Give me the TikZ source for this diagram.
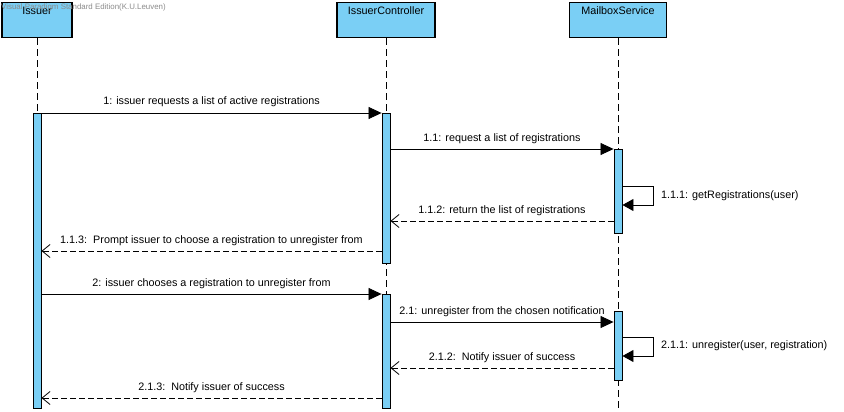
\documentclass[tikz,border=0pt]{standalone}
\usepackage{fontspec}
\setmainfont{Liberation Sans}
\usetikzlibrary{arrows.meta,calc}
\definecolor{vpblue}{RGB}{122,207,245}
\begin{document}
\begin{tikzpicture}[x=1pt,y=-1pt,
 head/.style={draw=black,line width=1.1pt,fill=vpblue,minimum height=35pt,inner sep=0pt,anchor=north},
 headtext/.style={font=\fontsize{10.8}{12}\selectfont,anchor=base,inner sep=0pt},
 bar/.style={draw=black,line width=0.9pt,fill=vpblue,minimum width=8pt,inner sep=0pt,anchor=north},
 life/.style={dash pattern=on 7pt off 4pt,line width=0.8pt},
 msg/.style={line width=0.8pt,-{Triangle[length=13pt,width=12pt]}},
 selfmsg/.style={line width=0.8pt,-{Triangle[length=11pt,width=12pt]}},
 ret/.style={line width=0.8pt,dash pattern=on 6pt off 3pt,-{Straight Barb[length=8pt,width=13pt]}},
 lbl/.style={font=\fontsize{10.8}{12}\selectfont,anchor=base,inner sep=0pt,yshift=8pt},
 slbl/.style={font=\fontsize{10.8}{12}\selectfont,anchor=base west,inner sep=0pt},
]
\fill[white] (0,0) rectangle (844,412);
\useasboundingbox (0,0) rectangle (844,412);

% heads
\node[head,minimum width=70pt] (hI) at (37,2) {};
\node[head,minimum width=98pt] (hC) at (386,2) {};
\node[head,minimum width=97pt] (hM) at (618,2) {};
\node[headtext] (tI) at (37,15) {Issuer};
\node[headtext] (tC) at (386,15) {IssuerController};
\node[headtext] (tM) at (618,15) {MailboxService};

% lifelines
\coordinate (bot) at (0,412);
\draw[life] (hI.south) -- (hI.south |- bot);
\draw[life] (hC.south) -- (hC.south |- bot);
\draw[life] (hM.south) -- (hM.south |- bot);

% activation bars
\node[bar,minimum height=295pt] (bI) at (37,113) {};
\node[bar,minimum height=150pt] (bC1) at (386,113) {};
\node[bar,minimum height=114pt] (bC2) at (386,294) {};
\node[bar,minimum height=84pt] (bM1) at (618,149) {};
\node[bar,minimum height=69pt] (bM2) at (618,311) {};

% message rows
\coordinate (y1) at (0,113);
\coordinate (y11) at (0,149);
\coordinate (y111a) at (0,186);
\coordinate (y111b) at (0,205);
\coordinate (y112) at (0,221);
\coordinate (y113) at (0,251);
\coordinate (y2) at (0,294);
\coordinate (y21) at (0,322);
\coordinate (y211a) at (0,337);
\coordinate (y211b) at (0,356);
\coordinate (y212) at (0,368);
\coordinate (y213) at (0,398);
\coordinate (sx) at (653,0);

\draw[msg] (bI.east |- y1) -- node[lbl] {1: issuer requests a list of active registrations} (bC1.west |- y1);
\draw[msg] (bC1.east |- y11) -- node[lbl] {1.1: request a list of registrations} (bM1.west |- y11);
\draw[selfmsg] (bM1.east |- y111a) -- (sx |- y111a) -- (sx |- y111b) -- (bM1.east |- y111b);
\node[slbl] (l111) at (661,198) {1.1.1: getRegistrations(user)};
\draw[ret] (bM1.west |- y112) -- node[lbl] {1.1.2: return the list of registrations} (bC1.east |- y112);
\draw[ret] (bC1.west |- y113) -- node[lbl] {1.1.3:\ \ Prompt issuer to choose a registration to unregister from} (bI.east |- y113);
\draw[msg] (bI.east |- y2) -- node[lbl] {2: issuer chooses a registration to unregister from} (bC2.west |- y2);
\draw[msg] (bC2.east |- y21) -- node[lbl] {2.1: unregister from the chosen notification} (bM2.west |- y21);
\draw[selfmsg] (bM2.east |- y211a) -- (sx |- y211a) -- (sx |- y211b) -- (bM2.east |- y211b);
\node[slbl] (l211) at (661,348) {2.1.1: unregister(user, registration)};
\draw[ret] (bM2.west |- y212) -- node[lbl] {2.1.2:\ \ Notify issuer of success} (bC2.east |- y212);
\draw[ret] (bC2.west |- y213) -- node[lbl] {2.1.3:\ \ Notify issuer of success} (bI.east |- y213);

% watermark
\node[anchor=base west,font=\fontsize{7.9}{9}\selectfont,text=black!45,inner sep=0pt] (wm) at (1,10) {Visual Paradigm Standard Edition(K.U.Leuven)};
\end{tikzpicture}
\end{document}
